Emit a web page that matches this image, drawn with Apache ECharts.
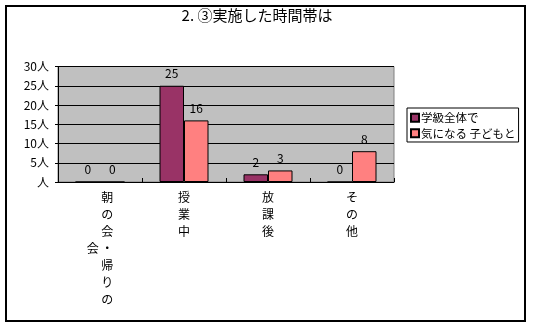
<!DOCTYPE html>
<html>
<head>
<meta charset="utf-8">
<script src="https://cdn.jsdelivr.net/npm/echarts@6/dist/echarts.min.js"></script>
<style>
html,body{margin:0;padding:0;background:#fff;}
#c{width:533px;height:328px;}
</style>
</head>
<body>
<div id="c"></div>
<script>
var titleText = '2. ③実施した時間帯は';
var categories = ['朝の会・帰りの会', '授業中', '放課後', 'その他'];
var seriesNames = ['学級全体で', '気になる 子どもと'];
var seriesA = [0, 25, 2, 0];
var seriesB = [0, 16, 3, 8];
var yUnit = '人';

var FONT = '"Noto Sans CJK JP", "Noto Sans", sans-serif';

function verticalLabel(s) {
  var maxRows = 7;
  var cols = [];
  for (var i = 0; i < s.length; i += maxRows) cols.push(s.slice(i, i + maxRows));
  if (cols.length === 1) return s.split('').join('\n');
  var rows = Math.min(maxRows, s.length);
  var grid = [];
  for (var r = 0; r < rows; r++) grid.push([]);
  cols.forEach(function (col, ci) {
    var off = Math.floor((rows - col.length) / 2);
    for (var r = 0; r < rows; r++) {
      var k = r - off;
      grid[r][ci] = (k >= 0 && k < col.length) ? col[k] : '\u3000';
    }
  });
  return grid.map(function (row) { return row.slice().reverse().join(' '); }).join('\n');
}

var chart = echarts.init(document.getElementById('c'), null, {renderer: 'canvas'});
chart.setOption({
  backgroundColor: '#ffffff',
  animation: false,
  textStyle: {fontFamily: FONT},
  title: {
    text: titleText,
    left: 257,
    top: 8,
    textAlign: 'center',
    padding: 0,
    textStyle: {fontFamily: FONT, fontSize: 15, fontWeight: 'normal', color: '#000'}
  },
  legend: {
    orient: 'vertical',
    left: 407,
    top: 108,
    padding: [4, 3, 3, 3],
    itemGap: 4,
    itemWidth: 8,
    itemHeight: 8,
    icon: 'rect',
    borderColor: '#000',
    borderWidth: 1,
    backgroundColor: '#fff',
    textStyle: {fontFamily: FONT, fontSize: 11.5, color: '#000', padding: [0, 0, 0, -3]},
    data: seriesNames
  },
  grid: {
    left: 58, top: 66.5, right: 139, bottom: 146,
    show: true, backgroundColor: '#C0C0C0', borderColor: '#808080', borderWidth: 1,
    containLabel: false
  },
  xAxis: {
    type: 'category',
    data: categories,
    axisLine: {lineStyle: {color: '#000', width: 1}},
    axisTick: {show: true, inside: true, length: 4, lineStyle: {color: '#000'}},
    axisLabel: {
      interval: 0, margin: 7, fontFamily: FONT, fontSize: 12, lineHeight: 17, color: '#000',
      formatter: function (v) { return verticalLabel(v); }
    }
  },
  yAxis: {
    type: 'value', min: 0, max: 30, interval: 5,
    axisLine: {show: true, lineStyle: {color: '#000', width: 1}},
    axisTick: {show: true, length: 3, lineStyle: {color: '#000'}},
    splitLine: {show: true, lineStyle: {color: '#000', width: 1}},
    axisLabel: {
      margin: 9, fontFamily: FONT, fontSize: 12, color: '#000',
      formatter: function (v) { return (v === 0 ? '' : v) + yUnit; }
    }
  },
  series: [
    {
      name: seriesNames[0], type: 'bar', data: seriesA, barWidth: 24.5, barGap: '0%',
      itemStyle: {color: '#993366', borderColor: '#000', borderWidth: 1},
      label: {show: true, position: 'top', distance: 6, fontFamily: FONT, fontSize: 12, color: '#000'}
    },
    {
      name: seriesNames[1], type: 'bar', data: seriesB, barWidth: 24.5, barGap: '0%',
      itemStyle: {color: '#FF8080', borderColor: '#000', borderWidth: 1},
      label: {show: true, position: 'top', distance: 6, fontFamily: FONT, fontSize: 12, color: '#000'}
    }
  ],
  graphic: [{
    type: 'rect', silent: true, z: 100,
    shape: {x: 6, y: 6, width: 519, height: 315},
    style: {fill: 'none', stroke: '#000', lineWidth: 2}
  }]
});
</script>
</body>
</html>
